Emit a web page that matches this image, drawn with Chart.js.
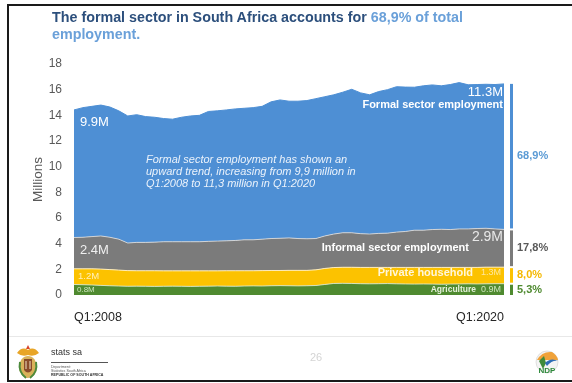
<!DOCTYPE html>
<html>
<head>
<meta charset="utf-8">
<script src="https://cdn.jsdelivr.net/npm/chart.js@4.4.0/dist/chart.umd.min.js"></script>
<style>
  html, body { margin: 0; padding: 0; background: #fff; }
  #slide { position: relative; width: 572px; height: 383px; overflow: hidden; font-family: "Liberation Sans", Arial, sans-serif; }
  #frame { position: absolute; left: 7px; top: 4px; width: 600px; height: 374px;
           border-left: 2px solid #1a1a1a; border-top: 2px solid #1a1a1a; border-bottom: 2px solid #1a1a1a; }
  #title { position: absolute; left: 52px; top: 9px; font-weight: bold; font-size: 14.3px; line-height: 17px; color: #2c4f7c; }
  #title span { color: #6aa0d9; }
  #chart { position: absolute; left: 0; top: 0; }
  #footline { position: absolute; left: 9px; top: 336px; width: 563px; height: 1px; background: #e8e8e8; }
  #arms { position: absolute; left: 16px; top: 344px; }
  #statssa { position: absolute; left: 51px; top: 347px; font-size: 9px; color: #333; }
  #statsline { position: absolute; left: 51px; top: 362px; width: 57px; height: 1px; background: #555; }
  #dept { position: absolute; left: 51px; top: 365px; font-size: 3.6px; line-height: 4px; color: #555; }
  #dept b { color: #333; }
  #page { position: absolute; left: 310px; top: 351px; font-size: 11px; color: #d4d4d4; }
  #ndp { position: absolute; left: 534px; top: 349px; }
</style>
</head>
<body>
<div id="slide">
  <div id="frame"></div>
  <canvas id="chart" width="572" height="383"></canvas>
  <div id="title">The formal sector in South Africa accounts for <span>68,9% of total<br>employment.</span></div>
  <div id="footline"></div>
  <svg id="arms" width="24" height="36" viewBox="0 0 24 36">
    <path d="M12 1 L14 5 L10 5 Z" fill="#d8452b"/>
    <path d="M1 9 Q6 2 12 6 Q18 2 23 9 Q18 13 12 11 Q6 13 1 9 Z" fill="#e8a527"/>
    <ellipse cx="12" cy="23" rx="9" ry="11" fill="#d9b25a"/>
    <path d="M8 15 H16 V26 Q12 31 8 26 Z" fill="#8a4b2a"/>
    <path d="M10 17 V25 M14 17 V25" stroke="#f0e2c0" stroke-width="1"/>
    <path d="M4 18 Q2 28 10 34" stroke="#4c8a3c" fill="none" stroke-width="2"/>
    <path d="M20 18 Q22 28 14 34" stroke="#4c8a3c" fill="none" stroke-width="2"/>
  </svg>
  <div id="statssa">stats sa</div>
  <div id="statsline"></div>
  <div id="dept">Department:<br>Statistics South Africa<br><b>REPUBLIC OF SOUTH AFRICA</b></div>
  <div id="page">26</div>
  <svg id="ndp" width="26" height="28" viewBox="0 0 26 28">
    <circle cx="13" cy="13" r="11" fill="#f4f4f4" stroke="#cfcfcf" stroke-width="0.6"/>
    <path d="M3 11 Q8 2 18 3 Q23 6 24 11 Z" fill="#f0a23a"/>
    <path d="M5 12 L10 7 L12 14 L9 20 Z" fill="#3f8a3a"/>
    <path d="M11 14 Q17 8 24 12 Q18 11 13 17 Z" fill="#2e6db6"/>
    <text x="13" y="24" text-anchor="middle" font-family="Liberation Sans" font-weight="bold" font-size="8" fill="#2f8a3c">NDP</text>
  </svg>
</div>
<script>
// quarterly labels Q1:2008 .. Q1:2020
var quarters = [];
for (var yr = 2008; yr <= 2020; yr++) {
  for (var q = 1; q <= 4; q++) {
    if (yr === 2020 && q > 1) break;
    quarters.push('Q' + q + ':' + yr);
  }
}

// employment by sector, millions
var agriculture = [0.82,0.80,0.78,0.75,0.72,0.70,0.68,0.69,0.68,0.67,0.68,0.69,0.68,0.67,0.68,0.69,0.70,0.69,0.68,0.70,
  0.71,0.70,0.72,0.73,0.72,0.71,0.72,0.74,0.82,0.90,0.91,0.90,0.88,0.87,0.88,0.89,0.87,0.86,0.85,0.86,
  0.85,0.84,0.85,0.86,0.87,0.86,0.87,0.88,0.88];
var privateHousehold = [1.22,1.24,1.26,1.27,1.26,1.24,1.22,1.20,1.21,1.22,1.20,1.19,1.20,1.21,1.20,1.19,1.18,1.20,1.21,1.19,
  1.18,1.20,1.19,1.18,1.20,1.21,1.20,1.22,1.25,1.24,1.25,1.26,1.27,1.28,1.27,1.26,1.28,1.29,1.30,1.29,
  1.30,1.31,1.30,1.29,1.28,1.29,1.30,1.29,1.29];
var informal = [2.44,2.46,2.51,2.58,2.52,2.41,2.15,2.21,2.21,2.23,2.27,2.27,2.27,2.27,2.27,2.30,2.32,2.33,2.36,2.41,
  2.41,2.45,2.49,2.51,2.53,2.48,2.46,2.44,2.53,2.61,2.69,2.69,2.63,2.60,2.65,2.67,2.75,2.80,2.90,2.90,
  2.95,2.97,2.95,3.00,3.00,3.03,3.03,2.98,2.94];
var formal = [9.94,10.10,10.15,10.20,10.15,10.00,9.90,9.95,9.80,9.73,9.60,9.55,9.70,9.80,9.85,10.12,10.15,10.20,10.25,10.25,
  10.30,10.35,10.65,10.78,10.65,10.70,10.77,10.90,10.85,10.85,10.95,11.18,10.97,10.85,11.05,11.18,11.33,11.25,11.14,11.25,
  11.27,11.18,11.30,11.40,11.23,11.22,11.22,11.25,11.34];

var startLabels = ['9.9M', '2.4M', '1.2M', '0.8M'];
var endLabels = ['11.3M', '2.9M', '1.3M', '0.9M'];
var shares = ['68,9%', '17,8%', '8,0%', '5,3%'];

var FONT = '"Liberation Sans", Arial, sans-serif';
var fills = ['#4e8fd4', '#7b7b7b', '#fcc200', '#4f8a30'];
var shareColors = ['#5b9bd5', '#595959', '#f5b800', '#4f8a30'];

// labels, commentary and the share bars at the right
var slideText = {
  id: 'slideText',
  afterDatasetsDraw: function(chart) {
    var ctx = chart.ctx, x = chart.scales.x, y = chart.scales.y;
    var last = formal.length - 1;
    var L = x.getPixelForValue(0), R = x.getPixelForValue(last);
    function txt(s, px, py, font, color, align) {
      ctx.font = font;
      ctx.fillStyle = color;
      ctx.textAlign = align || 'left';
      ctx.fillText(s, px, py);
    }
    ctx.save();
    ctx.textBaseline = 'middle';

    txt(startLabels[0], L + 6, y.getPixelForValue(13.48), '13px ' + FONT, '#ffffff');
    txt(startLabels[1], L + 6, y.getPixelForValue(3.5), '13px ' + FONT, '#f0f0f0');
    txt(startLabels[2], L + 4, y.getPixelForValue(1.48), '9.5px ' + FONT, '#fff0b8');
    txt(startLabels[3], L + 3, y.getPixelForValue(0.39), '8px ' + FONT, '#cde4bd');

    txt(endLabels[0], R - 1, y.getPixelForValue(15.75), '13px ' + FONT, '#ffffff', 'right');
    txt('Formal sector employment', R - 1, y.getPixelForValue(14.8), 'bold 11px ' + FONT, '#ffffff', 'right');
    txt(endLabels[1], R - 1, y.getPixelForValue(4.5), '14px ' + FONT, '#e8e8e8', 'right');
    txt('Informal sector employment', R - 35, y.getPixelForValue(3.66), 'bold 11px ' + FONT, '#ffffff', 'right');
    txt(endLabels[2], R - 3, y.getPixelForValue(1.72), '9px ' + FONT, '#fde7a0', 'right');
    txt('Private household', R - 31, y.getPixelForValue(1.72), 'bold 11px ' + FONT, '#fff6dc', 'right');
    txt(endLabels[3], R - 3, y.getPixelForValue(0.39), '9px ' + FONT, '#cde4bd', 'right');
    txt('Agriculture', R - 28, y.getPixelForValue(0.39), 'bold 8.5px ' + FONT, '#e6f0dc', 'right');

    var note = ['Formal sector employment has shown an',
                'upward trend, increasing from 9,9 million in',
                'Q1:2008 to 11,3 million in Q1:2020'];
    note.forEach(function(line, i) {
      txt(line, L + 72, y.getPixelForValue(10.5) + i * 12, 'italic 11px ' + FONT, '#eaf2fb');
    });

    // share of total at the last quarter
    var series = [formal, informal, privateHousehold, agriculture];
    var top = series.reduce(function(s, arr) { return s + arr[last]; }, 0);
    series.forEach(function(arr, i) {
      var bottom = top - arr[last];
      var y0 = y.getPixelForValue(top) + (i ? 1 : 0);
      var y1 = y.getPixelForValue(bottom) - (i < 3 ? 1 : 0);
      ctx.fillStyle = fills[i];
      ctx.fillRect(R + 6, y0, 3, y1 - y0);
      txt(shares[i], R + 13, (y0 + y1) / 2, 'bold 11px ' + FONT, shareColors[i]);
      top = bottom;
    });
    ctx.restore();
  }
};

new Chart(document.getElementById('chart'), {
  type: 'line',
  data: {
    labels: quarters,
    datasets: [
      { label: 'Agriculture', data: agriculture, backgroundColor: fills[3], borderColor: 'rgba(225,238,215,0.8)', fill: 'origin' },
      { label: 'Private household', data: privateHousehold, backgroundColor: fills[2], borderColor: 'rgba(255,240,200,0.9)', fill: '-1' },
      { label: 'Informal sector employment', data: informal, backgroundColor: fills[1], borderColor: 'rgba(225,225,225,0.8)', fill: '-1' },
      { label: 'Formal sector employment', data: formal, backgroundColor: fills[0], borderColor: fills[0], fill: '-1' }
    ]
  },
  options: {
    responsive: false,
    animation: false,
    devicePixelRatio: 1,
    layout: { padding: { left: 26, top: 64, right: 68, bottom: 0 } },
    elements: { point: { radius: 0 }, line: { borderWidth: 1, tension: 0 } },
    plugins: { legend: { display: false }, tooltip: { enabled: false } },
    scales: {
      x: {
        grid: { display: false, drawTicks: false },
        border: { display: false },
        ticks: {
          autoSkip: false, maxRotation: 0, align: 'inner', padding: 15,
          color: '#262626', font: { family: FONT, size: 12.5 },
          callback: function(v, i) { return (i === 0 || i === quarters.length - 1) ? quarters[i] : ''; }
        },
        afterFit: function(s) { s.height = 88; }
      },
      y: {
        stacked: true, min: 0, max: 18,
        grid: { display: false, drawTicks: false },
        border: { display: false },
        ticks: { stepSize: 2, padding: 12, color: '#595959', font: { family: FONT, size: 12 } },
        title: { display: true, text: 'Millions', color: '#595959', font: { family: FONT, size: 13.5 } },
        afterFit: function(s) { s.width = 48; }
      }
    }
  },
  plugins: [slideText]
});
</script>
</body>
</html>
